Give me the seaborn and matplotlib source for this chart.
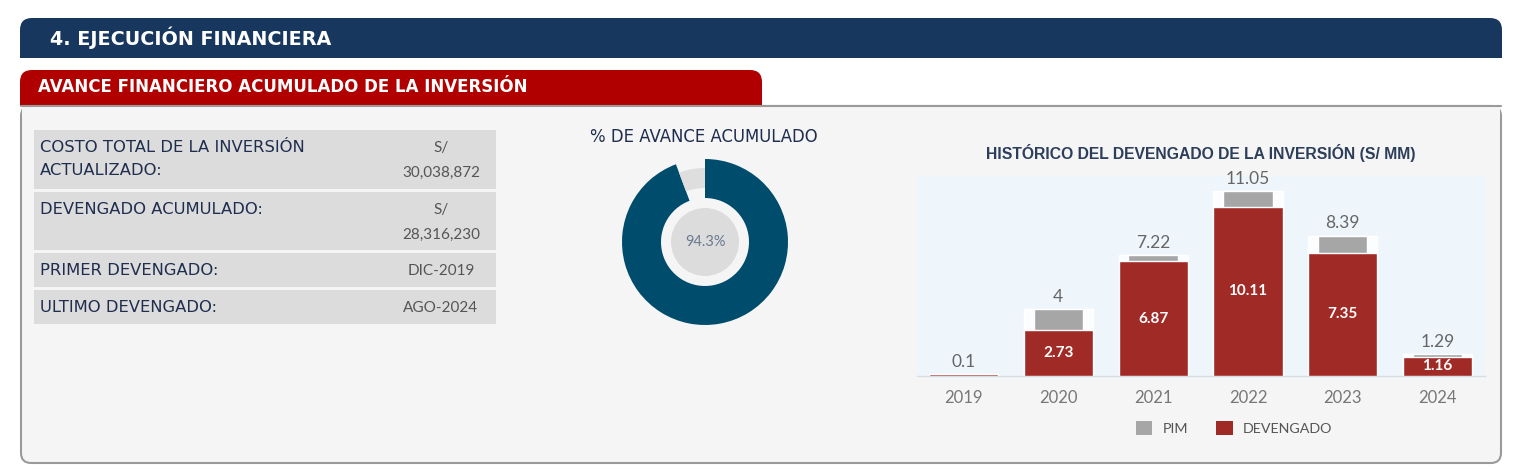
import matplotlib
matplotlib.use("Agg")
import matplotlib.pyplot as plt
from matplotlib.patches import FancyBboxPatch, Rectangle, Patch
import seaborn as sns
import pandas as pd

# data
years = ["2019", "2020", "2021", "2022", "2023", "2024"]
pim = [0.1, 4, 7.22, 11.05, 8.39, 1.29]
devengado = [0.1, 2.73, 6.87, 10.11, 7.35, 1.16]
avance = 94.3

table_labels = ["COSTO TOTAL DE LA INVERSIÓN\nACTUALIZADO:", "DEVENGADO ACUMULADO:",
                "PRIMER DEVENGADO:", "ULTIMO DEVENGADO:"]
table_values = ["S/\n30,038,872", "S/\n28,316,230", "DIC-2019", "AGO-2024"]

NAVY = "#17375e"
RED = "#b00000"
BAR_RED = "#a02b26"
GREY = "#a6a6a6"
TXT = "#1f2d4e"
WIDE = ["DejaVu Sans"]
ARIAL = ["Liberation Sans", "DejaVu Sans"]

sns.set_theme(style="white")
plt.rcParams["font.family"] = ["Lato", "DejaVu Sans"]

W, H = 1527, 476
fig = plt.figure(figsize=(W / 100, H / 100), dpi=100)
fig.patch.set_facecolor("white")

# background canvas in pixel units
bg = fig.add_axes([0, 0, 1, 1])
bg.set_xlim(0, W)
bg.set_ylim(H, 0)
bg.axis("off")

# main navy banner (rounded top)
bg.add_patch(FancyBboxPatch((20, 18), 1482, 40, boxstyle="round,pad=0,rounding_size=12",
                            fc=NAVY, ec="none"))
bg.add_patch(Rectangle((20, 40), 1482, 18, fc=NAVY, ec="none"))
bg.text(50, 38, "4. EJECUCIÓN FINANCIERA", color="white", fontsize=13.8,
        fontweight="bold", va="center", ha="left", family=WIDE)

# panel
bg.add_patch(FancyBboxPatch((21, 106), 1480, 357, boxstyle="round,pad=0,rounding_size=10",
                            fc="#f5f5f5", ec="#9a9a9a", lw=1.5))
bg.add_patch(Rectangle((21.8, 106.8), 1478.4, 12, fc="#f5f5f5", ec="none"))
bg.plot([21, 1501], [106, 106], color="#9a9a9a", lw=1.5)

# red tab
bg.add_patch(FancyBboxPatch((20, 70), 742, 36, boxstyle="round,pad=0,rounding_size=12",
                            fc=RED, ec="none"))
bg.add_patch(Rectangle((20, 90), 742, 16, fc=RED, ec="none"))
bg.text(38, 87, "AVANCE FINANCIERO ACUMULADO DE LA INVERSIÓN", color="white",
        fontsize=12, fontweight="bold", va="center", ha="left", family=WIDE)

# info table
rows = [(130, 189), (192, 250), (253, 287), (290, 324)]
for (y0, y1), lab, val in zip(rows, table_labels, table_values):
    bg.add_patch(Rectangle((34, y0), 462, y1 - y0, fc="#dcdcdc", ec="none"))
    bg.text(40, y0 + 10, lab, color=TXT, fontsize=11.8, va="top", ha="left",
            linespacing=1.7, family=WIDE)
    bg.text(441, y0 + 11, val, color="#555555", fontsize=11, va="top", ha="center",
            linespacing=2.0)

# donut
bg.text(704, 137, "% DE AVANCE ACUMULADO", color=TXT, fontsize=11.9, ha="center",
        va="center", family=WIDE)
cx, cy, R = 705, 242, 90
dax = fig.add_axes([(cx - R) / W, (H - cy - R) / H, 2 * R / W, 2 * R / H])
dax.pie([avance, 100 - avance], radius=83, startangle=90, counterclock=False,
        colors=["#004c6d", "none"], wedgeprops=dict(width=39, linewidth=0))
dax.pie([avance, 100 - avance], radius=74, startangle=90, counterclock=False,
        colors=["none", "#dedede"], wedgeprops=dict(width=20, linewidth=0))
dax.add_patch(plt.Circle((0, 0), 34, fc="#dcdcdc", ec="none"))
dax.text(0, 0, f"{avance}%", color="#6b7a90", fontsize=10.5, ha="center", va="center")
dax.set_xlim(-R, R)
dax.set_ylim(-R, R)
dax.set_aspect("equal")
dax.axis("off")

# bar chart
bg.text(1201, 153, "HISTÓRICO DEL DEVENGADO DE LA INVERSIÓN (S/ MM)", color="#2c3e5a",
        fontsize=11.3, fontweight="bold", ha="center", va="center", family=ARIAL)
ax = fig.add_axes([917 / W, (H - 376) / H, 568 / W, 200 / H])
ax.set_facecolor("#eef6fc")
df = pd.DataFrame({"year": years, "PIM": pim, "DEVENGADO": devengado})

sns.barplot(data=df, x="year", y="PIM", color="#fbfdff", width=0.73, saturation=1, ax=ax)
sns.barplot(data=df, x="year", y="PIM", color=GREY, width=0.52, saturation=1, ax=ax)
sns.barplot(data=df, x="year", y="DEVENGADO", color=BAR_RED, width=0.73, saturation=1, ax=ax)

ax.bar_label(ax.containers[1], labels=[f"{v:g}" for v in pim], padding=3,
             color="#666666", fontsize=12.5)
ax.bar_label(ax.containers[2], labels=[f"{v:g}" if v > 0.5 else "" for v in devengado],
             label_type="center", color="white", fontsize=11, fontweight="bold")

ax.set_xlim(-0.49, 5.5)
ax.set_ylim(0, 11.95)
ax.set_xlabel("")
ax.set_ylabel("")
ax.set_yticks([])
ax.tick_params(axis="x", length=0, pad=10, labelsize=12, labelcolor="#777777")
for s in ["top", "left", "right"]:
    ax.spines[s].set_visible(False)
ax.spines["bottom"].set_color("#d8dde2")
ax.spines["bottom"].set_linewidth(1)
ax.spines["bottom"].set_zorder(0.5)

handles = [Patch(fc=GREY, ec="none", label="PIM"),
           Patch(fc=BAR_RED, ec="none", label="DEVENGADO")]
fig.legend(handles=handles, loc="center", bbox_to_anchor=(1234 / W, 1 - 428 / H), ncol=2,
           frameon=False, handlelength=1.15, handleheight=1.15, columnspacing=2.0,
           handletextpad=0.7, prop={"size": 10.3}, labelcolor="#555555")

fig.savefig("out.png", dpi=100, facecolor="white")
